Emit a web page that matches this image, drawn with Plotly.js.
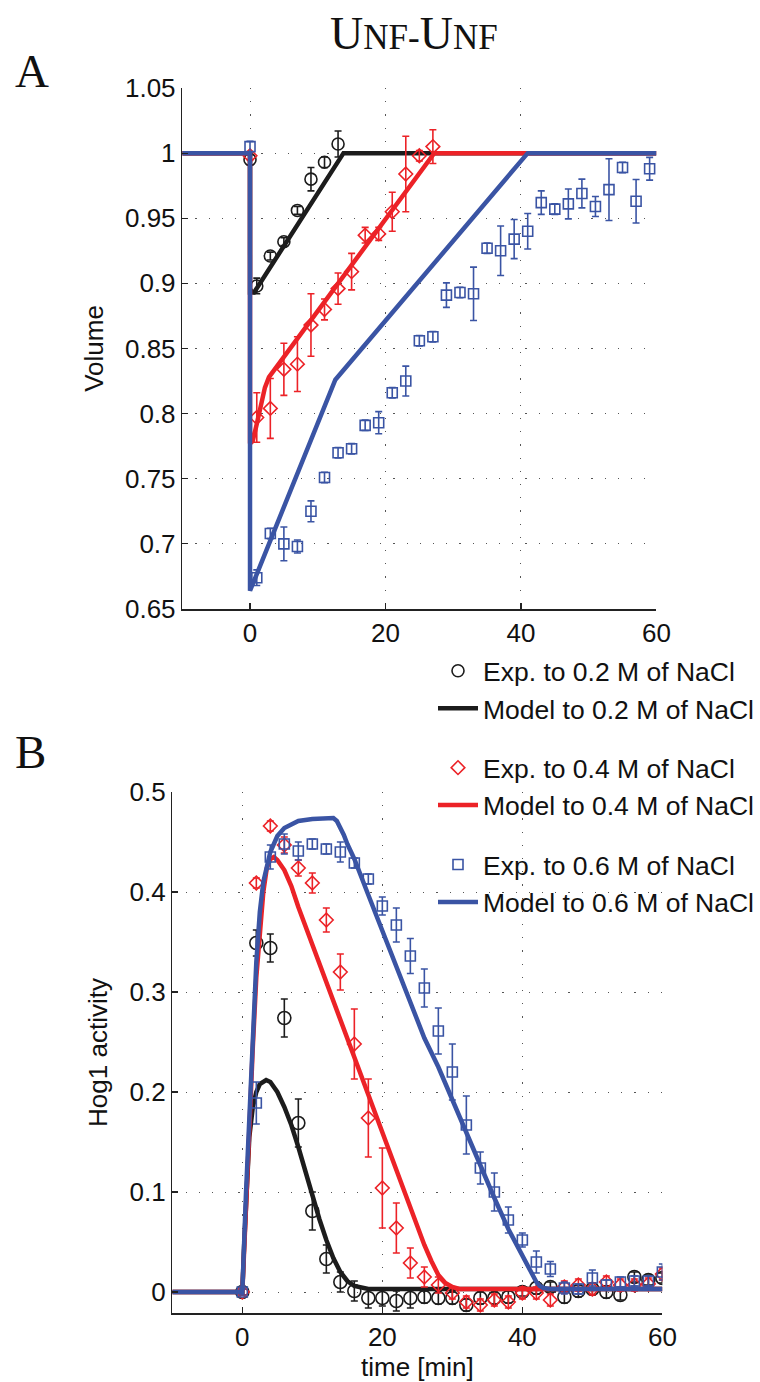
<!DOCTYPE html>
<html>
<head>
<meta charset="utf-8">
<script src="https://cdn.plot.ly/plotly-3.0.1.min.js"></script>
<style>html,body{margin:0;padding:0;background:#fff;}#chart{width:760px;height:1382px;}</style>
</head>
<body>
<div id="chart"></div>
<script>
// ---------- Panel A: cell volume ----------
const tA02 = [0,1,3,5,7,9,11,13];
const vA02 = [0.995,0.898,0.921,0.932,0.956,0.980,0.993,1.007];
const eA02 = [0.004,0.006,0.003,0.003,0.003,0.009,0.004,0.010];

const tA04 = [0,1,3,5,7,9,11,13,15,17,19,21,23,25,27];
const vA04 = [0.998,0.797,0.804,0.834,0.838,0.868,0.880,0.896,0.909,0.937,0.938,0.955,0.984,0.998,1.005];
const eA04 = [0.003,0.019,0.023,0.020,0.021,0.024,0.008,0.012,0.014,0.006,0.005,0.015,0.029,0.004,0.013];

const tA06 = [0,1,3,5,7,9,11,13,15,17,19,21,23,25,27,29,31,33,35,37,39,41,43,45,47,49,51,53,55,57,59];
const vA06 = [1.005,0.674,0.708,0.700,0.698,0.725,0.751,0.770,0.773,0.791,0.793,0.816,0.825,0.856,0.859,0.891,0.893,0.892,0.927,0.925,0.934,0.940,0.962,0.957,0.961,0.969,0.959,0.972,0.989,0.963,0.988];
const eA06 = [0.004,0.006,0.004,0.013,0.005,0.008,0.004,0.004,0.004,0.004,0.0085,0.004,0.0115,0.004,0.004,0.0094,0.004,0.0205,0.004,0.019,0.015,0.0136,0.009,0.004,0.0115,0.011,0.0077,0.0237,0.004,0.0167,0.0087];

const mA02t = [-10,0,0.001,0.6,13.8,60];
const mA02v = [1,1,0.893,0.893,1,1];
const mA04t = [-10,0,0.001,0.4,1.0,1.6,2.2,2.8,27.2,60];
const mA04v = [1,1,0.777,0.779,0.792,0.808,0.820,0.828,1,1];
const mA06t = [-10,0,0.001,12.6,41.0,60];
const mA06v = [1,1,0.664,0.826,1,1];

// ---------- Panel B: Hog1 activity ----------
const tB = [0,2,4,6,8,10,12,14,16,18,20,22,24,26,28,30,32,34,36,38,40,42,44,46,48,50,52,54,56,58,60];
const vB02 = [0,0.349,0.344,0.274,0.169,0.081,0.033,0.010,0.001,-0.006,-0.006,-0.009,-0.006,-0.005,-0.006,-0.006,-0.013,-0.006,-0.006,-0.005,0.000,0.004,0.005,-0.005,0.001,0.003,0.000,-0.003,0.015,0.012,0.014];
const eB02 = [0.003,0.013,0.014,0.019,0.024,0.019,0.014,0.010,0.010,0.010,0.008,0.010,0.010,0.006,0.006,0.006,0.006,0.006,0.006,0.006,0.004,0.006,0.005,0.006,0.006,0.006,0.006,0.005,0.005,0.005,0.005];
const vB04 = [0,0.409,0.466,0.447,0.424,0.409,0.372,0.320,0.248,0.174,0.104,0.064,0.029,0.015,0.007,-0.001,-0.010,-0.013,-0.008,-0.010,-0.001,-0.001,-0.008,0.005,0.007,0.003,0.010,0.007,0.007,0.008,0.018];
const eB04 = [0.003,0.005,0.005,0.008,0.008,0.010,0.012,0.018,0.035,0.039,0.040,0.025,0.015,0.010,0.008,0.006,0.006,0.006,0.006,0.006,0.006,0.006,0.006,0.006,0.006,0.006,0.006,0.006,0.006,0.006,0.006];
const vB06 = [0,0.189,0.435,0.448,0.441,0.448,0.443,0.440,0.429,0.413,0.386,0.367,0.336,0.304,0.261,0.220,0.167,0.124,0.100,0.072,0.052,0.030,0.023,0.004,0.003,0.014,0.007,0.010,0.011,0.011,0.020];
const eB06 = [0.003,0.021,0.012,0.010,0.009,0.005,0.005,0.010,0.005,0.005,0.009,0.017,0.0175,0.019,0.023,0.028,0.029,0.016,0.019,0.013,0.007,0.011,0.0075,0.006,0.005,0.008,0.005,0.005,0.005,0.005,0.008];

const mB02t = [-10,0,0.25,0.5,1,1.5,2,2.5,3,3.4,4,5,6,7,8,9,10,11,12,13,14,15,16,17,18,20,60];
const mB02v = [0,0,0.045,0.09,0.155,0.185,0.2,0.208,0.211,0.212,0.21,0.2,0.185,0.167,0.145,0.12,0.096,0.073,0.052,0.034,0.02,0.011,0.006,0.004,0.003,0.003,0.003];
const mB04t = [-10,0,0.5,1,1.5,2,2.5,3,3.5,4,4.5,5,6,7,8,25,26,27,28,29,30,31,60];
const mB04v = [0,0,0.08,0.17,0.245,0.315,0.365,0.4,0.424,0.433,0.435,0.432,0.422,0.406,0.385,0.065,0.047,0.031,0.017,0.009,0.005,0.003,0.003];
const mB06t = [-10,0,0.5,1,1.5,2,2.5,3,4,5,6,7,8,10,12,13,13.5,14,14.5,15,16,18,20,22,24,26,28,30,32,34,36,38,40,41,42,42.5,43,44,60];
const mB06v = [0,0,0.095,0.18,0.26,0.33,0.38,0.41,0.44,0.456,0.464,0.468,0.471,0.473,0.474,0.474,0.471,0.465,0.457,0.448,0.433,0.397,0.361,0.325,0.29,0.254,0.225,0.192,0.16,0.126,0.094,0.063,0.036,0.022,0.01,0.006,0.004,0.003,0.003];

// ---------- axis ticks / labels ----------
const xTicks = [0,20,40,60];
const yTicksA = [0.65,0.7,0.75,0.8,0.85,0.9,0.95,1,1.05];
const yTextA = ['0.65','0.7','0.75','0.8','0.85','0.9','0.95','1','1.05'];
const yTicksB = [0,0.1,0.2,0.3,0.4,0.5];
const yTextB = ['0','0.1','0.2','0.3','0.4','0.5'];
const names = ['Exp. to 0.2 M of NaCl','Model to 0.2 M of NaCl','Exp. to 0.4 M of NaCl','Model to 0.4 M of NaCl','Exp. to 0.6 M of NaCl','Model to 0.6 M of NaCl'];

const cK = '#1c1c1c', cR = '#ec2227', cB = '#3a54a4';
const W = 760, H = 1382;

function exp(x, y, e, color, sym, size, name, grp, xa, ya, show) {
  return {type:'scatter', mode:'markers', x:x, y:y, xaxis:xa, yaxis:ya, name:name, legendgroup:grp, showlegend:show,
    marker:{symbol:sym, size:size, color:color, line:{color:color, width:1.6}},
    error_y:{type:'data', array:e, visible:true, color:color, thickness:1.6, width:3.5}};
}
function mod(x, y, color, name, grp, xa, ya, show) {
  return {type:'scatter', mode:'lines', x:x, y:y, xaxis:xa, yaxis:ya, name:name, legendgroup:grp, showlegend:show,
    line:{color:color, width:4.5}};
}

const data = [
  exp(tA02, vA02, eA02, cK, 'circle-open', 12, names[0], 'g1', 'x', 'y', true),
  mod(mA02t, mA02v, cK, names[1], 'g1', 'x', 'y', true),
  exp(tA04, vA04, eA04, cR, 'diamond-open', 10.5, names[2], 'g2', 'x', 'y', true),
  mod(mA04t, mA04v, cR, names[3], 'g2', 'x', 'y', true),
  exp(tA06, vA06, eA06, cB, 'square-open', 10, names[4], 'g3', 'x', 'y', true),
  mod(mA06t, mA06v, cB, names[5], 'g3', 'x', 'y', true),
  exp(tB, vB02, eB02, cK, 'circle-open', 13, names[0], 'g1', 'x2', 'y2', false),
  mod(mB02t, mB02v, cK, names[1], 'g1', 'x2', 'y2', false),
  exp(tB, vB04, eB04, cR, 'diamond-open', 10.5, names[2], 'g2', 'x2', 'y2', false),
  mod(mB04t, mB04v, cR, names[3], 'g2', 'x2', 'y2', false),
  exp(tB, vB06, eB06, cB, 'square-open', 10, names[4], 'g3', 'x2', 'y2', false),
  mod(mB06t, mB06v, cB, names[5], 'g3', 'x2', 'y2', false)
];

const axCommon = {showgrid:true, gridcolor:'#555', gridwidth:1, griddash:'1.2px,12px', zeroline:false,
  showline:true, linecolor:'#222', linewidth:1.5, ticks:'inside', ticklen:6, tickcolor:'#222', tickwidth:1.2,
  tickfont:{size:26, color:'#111'}, mirror:false};

const layout = {
  width:W, height:H, margin:{l:0,r:0,t:0,b:0}, paper_bgcolor:'#fff', plot_bgcolor:'#fff',
  font:{family:'Liberation Sans, Arial, sans-serif', size:26, color:'#111'},
  xaxis: Object.assign({}, axCommon, {domain:[183/W, 659/W], range:[-10,60], tickvals:xTicks, anchor:'y'}),
  yaxis: Object.assign({}, axCommon, {domain:[1-609/H, 1-88/H], range:[0.65,1.05], tickvals:yTicksA, ticktext:yTextA, anchor:'x',
    title:{text:'Volume', font:{size:26}, standoff:14}}),
  xaxis2: Object.assign({}, axCommon, {domain:[173/W, 665/W], range:[-10,60], tickvals:xTicks, anchor:'y2',
    title:{text:'time [min]', font:{size:26}, standoff:4}}),
  yaxis2: Object.assign({}, axCommon, {domain:[1-1313/H, 1-792/H], range:[-0.021,0.5], tickvals:yTicksB, ticktext:yTextB, anchor:'x2',
    title:{text:'Hog1 activity', font:{size:26}, standoff:14}}),
  showlegend:true,
  legend:{x:435/W, xanchor:'left', y:1-647/H, yanchor:'top', bgcolor:'rgba(0,0,0,0)', borderwidth:0,
    font:{size:26.5, color:'#111'}, traceorder:'grouped', tracegroupgap:22, itemwidth:40},
  annotations:[
    {xref:'paper', yref:'paper', x:416/W, y:1-34/H, xanchor:'center', yanchor:'middle', showarrow:false,
     text:'U<span style="font-size:35px">NF-</span>U<span style="font-size:35px">NF</span>',
     font:{family:'Liberation Serif, Times New Roman, serif', size:46, color:'#111'}},
    {xref:'paper', yref:'paper', x:13/W, y:1-71/H, xanchor:'left', yanchor:'middle', showarrow:false,
     text:'A', font:{family:'Liberation Serif, Times New Roman, serif', size:47, color:'#111'}},
    {xref:'paper', yref:'paper', x:13/W, y:1-752/H, xanchor:'left', yanchor:'middle', showarrow:false,
     text:'B', font:{family:'Liberation Serif, Times New Roman, serif', size:47, color:'#111'}}
  ]
};

Plotly.newPlot('chart', data, layout, {displayModeBar:false, staticPlot:true});
</script>
</body>
</html>
